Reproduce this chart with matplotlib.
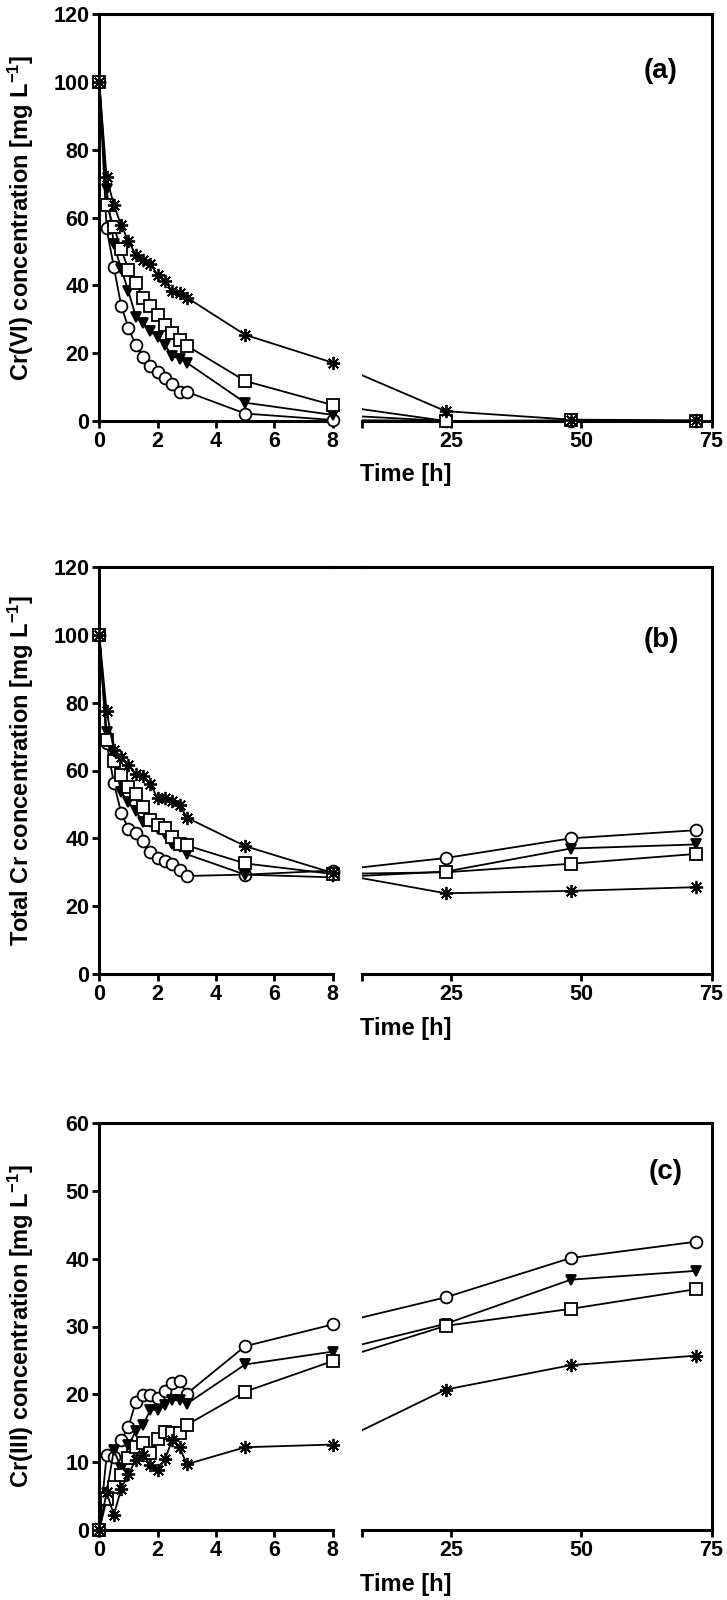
import numpy as np
import matplotlib
matplotlib.use("Agg")
import matplotlib.pyplot as plt
from matplotlib.lines import Line2D

plt.rcParams['font.family'] = ['Liberation Sans', 'DejaVu Sans']
plt.rcParams['font.weight'] = 'bold'
plt.rcParams['mathtext.default'] = 'regular'

# time points [h]
t_short = [0, 0.25, 0.5, 0.75, 1, 1.25, 1.5, 1.75, 2, 2.25, 2.5, 2.75, 3, 5, 8]
t_long = [24, 48, 72]

# (a) Cr(VI)
a_circle = [100, 56.8, 45.3, 34.0, 27.4, 22.4, 19.0, 16.2, 14.5, 12.7, 10.8, 8.6, 8.6, 2.2, 0.3, 0, 0, 0]
a_tri = [100, 68.3, 52.2, 44.8, 38.2, 30.8, 29.0, 26.4, 24.7, 22.4, 19.2, 18.3, 17.2, 5.4, 1.8, 0, 0, 0]
a_square = [100, 63.7, 57.2, 50.6, 44.6, 40.7, 36.4, 34.0, 31.3, 28.3, 26.0, 23.9, 22.2, 11.8, 4.7, 0, 0.2, 0]
a_star = [100, 71.8, 63.7, 57.7, 53.0, 49.0, 47.6, 46.3, 42.9, 41.4, 38.2, 37.7, 36.4, 25.4, 17.2, 2.9, 0.4, 0.2]

# (b) total Cr
b_circle = [100, 68.2, 56.2, 47.6, 42.7, 41.7, 39.2, 36.0, 34.3, 33.3, 32.3, 30.6, 28.9, 29.3, 30.5, 34.2, 40.0, 42.4]
b_tri = [100, 71.3, 63.4, 53.6, 50.6, 48.0, 44.9, 44.7, 42.7, 41.2, 38.2, 37.3, 35.3, 29.3, 28.5, 30.2, 37.0, 38.2]
b_square = [100, 68.9, 62.9, 58.7, 55.0, 53.0, 49.3, 45.4, 43.9, 42.9, 40.4, 38.4, 37.9, 32.6, 29.5, 30.0, 32.5, 35.4]
b_star = [100, 77.5, 65.9, 63.9, 61.5, 59.0, 58.5, 56.0, 51.8, 51.8, 51.0, 49.8, 46.1, 37.7, 29.8, 23.8, 24.5, 25.6]

# (c) Cr(III)
c_circle = [0, 11.0, 10.7, 13.3, 15.2, 18.9, 19.9, 19.9, 19.4, 20.5, 21.7, 21.9, 20.1, 27.1, 30.3, 34.3, 40.1, 42.5]
c_tri = [0, 5.5, 11.8, 9.1, 12.5, 14.6, 15.5, 17.7, 17.7, 18.4, 19.2, 19.1, 18.6, 24.4, 26.3, 30.4, 36.9, 38.2]
c_square = [0, 4.5, 6.4, 8.1, 10.6, 12.3, 12.8, 11.4, 13.4, 14.5, 14.3, 14.3, 15.5, 20.4, 24.9, 30.1, 32.6, 35.5]
c_star = [0, 5.6, 2.2, 6.1, 8.3, 10.3, 11.0, 9.6, 8.9, 10.4, 13.3, 12.2, 9.7, 12.2, 12.6, 20.7, 24.3, 25.7]

panels = [
    ('(a)', 'Cr(VI) concentration [mg L$^{-1}$]', 120, 20, [a_circle, a_tri, a_square, a_star], (0.855, 0.86)),
    ('(b)', 'Total Cr concentration [mg L$^{-1}$]', 120, 20, [b_circle, b_tri, b_square, b_star], (0.855, 0.82)),
    ('(c)', 'Cr(III) concentration [mg L$^{-1}$]', 60, 10, [c_circle, c_tri, c_square, c_star], (0.87, 0.88)),
]
styles = [
    dict(marker='o', mfc='white', ms=8.5),
    dict(marker='v', mfc='black', ms=7.5),
    dict(marker='s', mfc='white', ms=8.5),
    dict(marker=(8, 2, 0), mfc='black', ms=9.5),
]

fig = plt.figure(figsize=(7.27, 16), dpi=100)
W, H = 727, 1600
xl0, xl1 = 99.3, 332.7
xr0, xr1 = 362.3, 711.5
tops = [14, 567, 1123]
ph = 407
FS = 15.5

for (tag, ylab, ymax, ystep, series, tagpos), top in zip(panels, tops):
    bot = (H - top - ph) / H
    axl = fig.add_axes([xl0 / W, bot, (xl1 - xl0) / W, ph / H])
    axr = fig.add_axes([xr0 / W, bot, (xr1 - xr0) / W, ph / H])
    axl.set_xlim(0, 8)
    axr.set_xlim(8, 75)
    for ax in (axl, axr):
        ax.set_ylim(0, ymax)
        for s in ax.spines.values():
            s.set_linewidth(2.2)
        ax.tick_params(direction='out', length=5, width=2, labelsize=FS, pad=2)
    axl.spines['right'].set_visible(False)
    axr.spines['left'].set_visible(False)
    axl.set_yticks(np.arange(0, ymax + 1, ystep))
    axl.set_xticks([0, 2, 4, 6, 8])
    axr.set_yticks([])
    axr.set_xticks([8, 25, 50, 75])
    axr.set_xticklabels(['', '25', '50', '75'])
    for lab in axl.get_xticklabels() + axl.get_yticklabels() + axr.get_xticklabels():
        lab.set_fontweight('bold')

    # top border runs across the break
    ytop = (H - top) / H
    fig.add_artist(Line2D([xl1 / W, xr0 / W], [ytop, ytop], color='black', lw=2.2,
                          transform=fig.transFigure))

    # x position of the 8 h point expressed in right-axis data units
    px8 = axl.transData.transform((8, 0))
    x8v = axr.transData.inverted().transform(px8)[0]

    n = len(t_short)
    for vals, st in zip(series, styles):
        axl.plot(t_short, vals[:n], color='black', lw=1.3, mec='black', mew=1.3,
                 clip_on=False, zorder=3, **st)
        axr.plot([x8v] + t_long, [vals[n - 1]] + vals[n:], color='black', lw=1.3, zorder=2)
        axr.plot(t_long, vals[n:], color='black', lw=0, mec='black', mew=1.3,
                 clip_on=False, zorder=3, **st)

    axr.text(tagpos[0], tagpos[1], tag, transform=axr.transAxes, fontsize=20,
             fontweight='bold', ha='center', va='center')
    fig.text(21 / W, (H - top - ph / 2) / H, ylab, rotation=90, fontsize=17,
             fontweight='bold', ha='center', va='center')
    fig.text(406 / W, (H - top - ph - 54) / H, 'Time [h]', fontsize=17,
             fontweight='bold', ha='center', va='center')

fig.savefig('out.png', dpi=100)
